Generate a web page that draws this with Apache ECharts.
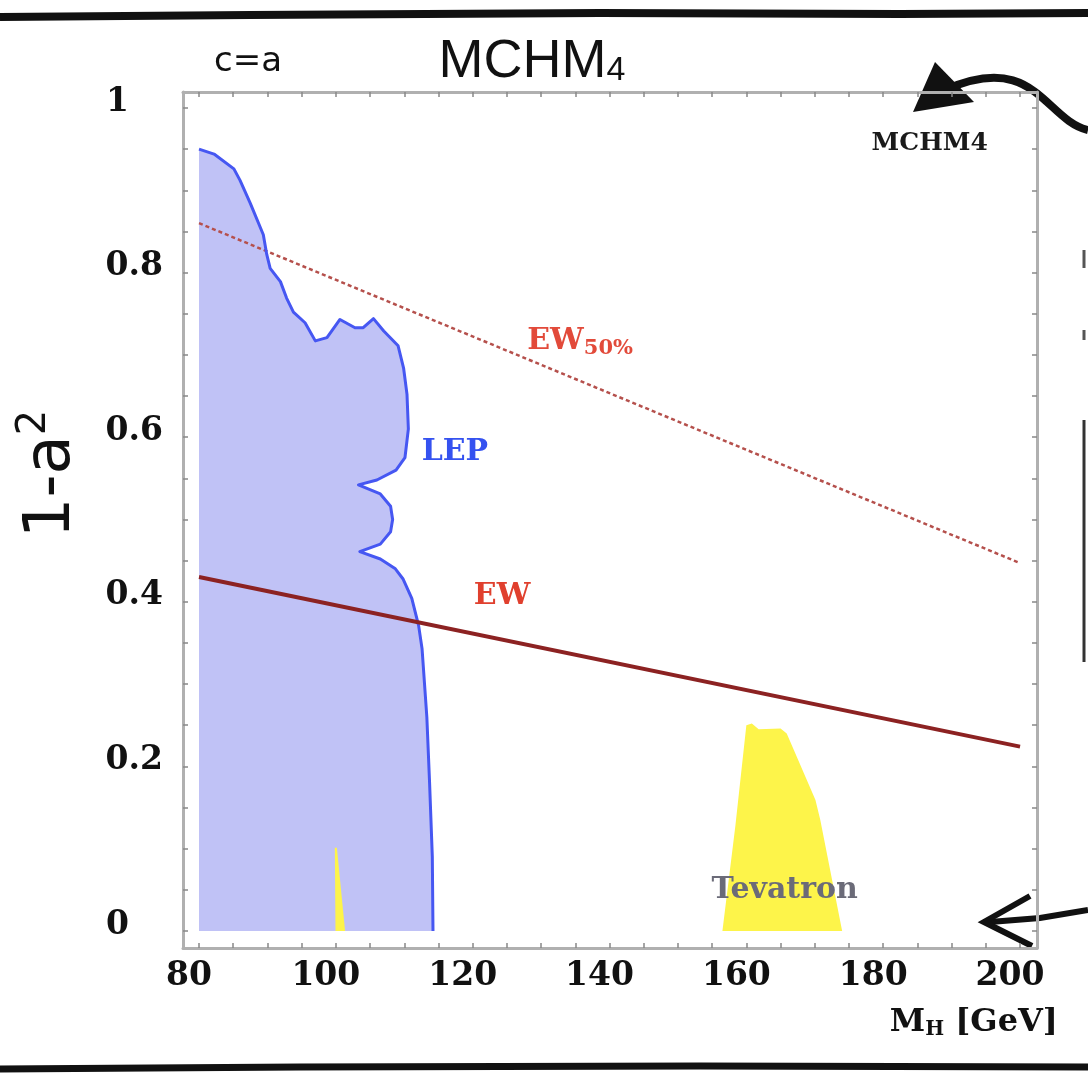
<!DOCTYPE html>
<html>
<head>
<meta charset="utf-8">
<script src="https://cdn.jsdelivr.net/npm/echarts@6/dist/echarts.min.js"></script>
<style>
  html, body { margin: 0; padding: 0; background: #fff; }
  #chart { width: 1088px; height: 1082px; }
</style>
</head>
<body>
<div id="chart"></div>
<script>
// tick values
var xTickLabels = [80, 100, 120, 140, 160, 180, 200];
var xMinorTicks = [80, 85, 90, 95, 100, 105, 110, 115, 120, 125, 130, 135, 140, 145, 150, 155, 160, 165, 170, 175, 180, 185, 190, 195, 200];
var yTickLabels = [0, 0.2, 0.4, 0.6, 0.8, 1];
var yMinorTicks = [0, 0.05, 0.1, 0.15, 0.2, 0.25, 0.3, 0.35, 0.4, 0.45, 0.5, 0.55, 0.6, 0.65, 0.7, 0.75, 0.8, 0.85, 0.9, 0.95, 1];

// LEP exclusion boundary (M_H, 1-a^2)
var lepBoundary = [
  [80.0, 0.950], [82.2, 0.944], [85.1, 0.926], [86.0, 0.912], [87.5, 0.884],
  [89.4, 0.846], [89.9, 0.822], [90.4, 0.805], [91.9, 0.789], [92.8, 0.769],
  [93.8, 0.752], [95.5, 0.739], [97.0, 0.717], [98.7, 0.721], [100.6, 0.743],
  [102.8, 0.733], [104.0, 0.733], [105.5, 0.744], [107.0, 0.729], [109.1, 0.711],
  [109.9, 0.684], [110.4, 0.652], [110.6, 0.610], [110.1, 0.575], [108.8, 0.560],
  [106.0, 0.548], [103.3, 0.542], [106.5, 0.531], [108.0, 0.516], [108.3, 0.500],
  [108.0, 0.485], [106.5, 0.470], [103.5, 0.461], [106.5, 0.452], [108.7, 0.440],
  [109.8, 0.428], [111.1, 0.404], [112.1, 0.371], [112.6, 0.343], [113.3, 0.260],
  [113.7, 0.180], [114.1, 0.090], [114.2, 0.0]
];
// Tevatron exclusion
var tevatronRegion = [
  [156.5, 0], [158.4, 0.128], [160.0, 0.250], [160.8, 0.252], [161.8, 0.245],
  [165.0, 0.246], [165.9, 0.240], [170.1, 0.159], [170.8, 0.135], [174.0, 0]
];
var tevatronSliver = [[99.85, 0.101], [100.15, 0.101], [101.35, 0], [99.95, 0]];

// electroweak bounds
var ewLine = [[80, 0.430], [200, 0.224]];
var ew50Line = [[80, 0.860], [200, 0.447]];

// in-plot labels
var lepLabel = [117.4, 0.582];
var ewLabel = [124.3, 0.407];
var ew50Label = [135.7, 0.716];
var tevLabel = [165.6, 0.050];
var modelLabel = [186.8, 0.957];

var chart = echarts.init(document.getElementById('chart'));

var serif = 'DejaVu Serif';

function area(points, color, z) {
  return {
    type: 'custom',
    silent: true,
    z: z,
    data: [0],
    renderItem: function (params, api) {
      return {
        type: 'polygon',
        shape: { points: points.map(function (p) { return api.coord(p); }) },
        style: { fill: color }
      };
    }
  };
}

function textMark(pos, text, color, size, rich) {
  return {
    type: 'scatter',
    silent: true,
    symbolSize: 0,
    z: 10,
    itemStyle: { opacity: 1 },
    data: [pos],
    label: {
      show: true,
      position: 'inside',
      formatter: text,
      color: color,
      fontFamily: serif,
      fontWeight: 'bold',
      fontSize: size,
      rich: rich || {}
    }
  };
}

function frameX(pos, labels) {
  return {
    type: 'value',
    position: pos,
    min: 77.66,
    max: 202.48,
    axisLine: { show: true, onZero: false, lineStyle: { color: '#b0b0b0', width: 3 } },
    axisTick: { show: true, inside: true, length: 5, customValues: xMinorTicks, lineStyle: { color: '#888', width: 1.5 } },
    axisLabel: labels ? {
      show: true,
      customValues: xTickLabels,
      margin: 12,
      color: '#111',
      fontFamily: serif,
      fontWeight: 'bold',
      fontSize: 33,
      padding: [0, 20, 0, 0]
    } : { show: false },
    splitLine: { show: false }
  };
}

function frameY(pos, labels) {
  return {
    type: 'value',
    position: pos,
    min: -0.0207,
    max: 1.0194,
    axisLine: { show: true, onZero: false, lineStyle: { color: '#b0b0b0', width: 3 } },
    axisTick: { show: true, inside: true, length: 5, customValues: yMinorTicks, lineStyle: { color: '#888', width: 1.5 } },
    axisLabel: labels ? {
      show: true,
      customValues: yTickLabels,
      margin: 20,
      color: '#111',
      fontFamily: serif,
      fontWeight: 'bold',
      fontSize: 33,
      padding: [0, 0, 12, 0],
      formatter: function (v) {
        if (Math.abs(v) < 1e-9 || Math.abs(v - 1) < 1e-9) return '{i|' + Math.round(v) + '}';
        return v.toFixed(1);
      },
      rich: { i: { fontFamily: serif, fontWeight: 'bold', fontSize: 33, color: '#111', padding: [0, 34, 0, 0] } }
    } : { show: false },
    splitLine: { show: false }
  };
}

var xAxes = [frameX('bottom', true), frameX('top', false)];
xAxes[0].name = '{m|M}{h|H}{g| [GeV]}';
xAxes[0].nameLocation = 'end';
xAxes[0].nameGap = 21;
xAxes[0].nameTextStyle = {
  align: 'right',
  verticalAlign: 'top',
  padding: [58, 0, 0, 0],
  rich: {
    m: { fontFamily: serif, fontWeight: 'bold', fontSize: 32, color: '#111' },
    h: { fontFamily: serif, fontWeight: 'bold', fontSize: 20, color: '#111', padding: [14, 0, 0, 0] },
    g: { fontFamily: serif, fontWeight: 'bold', fontSize: 32, color: '#111' }
  }
};

var option = {
  backgroundColor: '#fff',
  animation: false,
  grid: { left: 183, right: 51, top: 92, bottom: 134 },
  xAxis: xAxes,
  yAxis: [frameY('left', true), frameY('right', false)],
  series: [
    area(lepBoundary.concat([[80, 0]]), '#c0c2f6', 1),
    area(tevatronSliver, '#fdf44a', 2),
    area(tevatronRegion, '#fdf44a', 2),
    {
      type: 'line',
      data: ew50Line,
      symbol: 'none',
      z: 4,
      lineStyle: { color: '#b5504c', width: 2.5, type: [4, 3] }
    },
    {
      type: 'line',
      data: lepBoundary,
      symbol: 'none',
      z: 5,
      lineStyle: { color: '#4657f2', width: 3, join: 'round' }
    },
    {
      type: 'line',
      data: ewLine,
      symbol: 'none',
      z: 6,
      lineStyle: { color: '#8c2222', width: 4 }
    },
    textMark(lepLabel, 'LEP', '#3552f0', 30),
    textMark(ewLabel, 'EW', '#e0402e', 30),
    textMark(ew50Label, '{a|EW}{b|50%}', '#e24a3a', 30, {
      a: { fontFamily: serif, fontWeight: 'bold', fontSize: 30, color: '#e24a3a' },
      b: { fontFamily: serif, fontWeight: 'bold', fontSize: 21, color: '#e24a3a', padding: [14, 0, 0, 0] }
    }),
    textMark(tevLabel, 'Tevatron', '#6b6b78', 30),
    textMark(modelLabel, 'MCHM4', '#1a1a1a', 25)
  ],
  graphic: [
    // slide decoration: brush strokes
    { type: 'polyline', shape: { points: [[0, 17], [250, 15], [600, 13], [900, 14], [1088, 13]] }, style: { stroke: '#111', lineWidth: 8, fill: null } },
    { type: 'polyline', shape: { points: [[0, 1069], [300, 1067], [700, 1066], [1088, 1067]] }, style: { stroke: '#111', lineWidth: 7, fill: null } },
    // top-right arrow
    { type: 'bezierCurve', shape: { x1: 1088, y1: 130, cpx1: 1045, cpy1: 120, cpx2: 1035, cpy2: 50, x2: 945, y2: 90 }, style: { stroke: '#111', lineWidth: 8, fill: null } },
    { type: 'polygon', shape: { points: [[913, 112], [935, 62], [974, 102]] }, style: { fill: '#111' } },
    // bottom-right arrow
    { type: 'polyline', shape: { points: [[990, 922], [1040, 918], [1088, 910]] }, style: { stroke: '#111', lineWidth: 6, fill: null } },
    { type: 'polyline', shape: { points: [[1030, 896], [984, 922], [1032, 946]] }, style: { stroke: '#111', lineWidth: 6, fill: null } },
    // partial bracket on the right edge
    { type: 'line', shape: { x1: 1084, y1: 420, x2: 1084, y2: 662 }, style: { stroke: '#333', lineWidth: 3 } },
    { type: 'line', shape: { x1: 1084, y1: 250, x2: 1084, y2: 268 }, style: { stroke: '#555', lineWidth: 3 } },
    { type: 'line', shape: { x1: 1084, y1: 330, x2: 1084, y2: 340 }, style: { stroke: '#555', lineWidth: 3 } },
    // titles
    { type: 'text', x: 248, y: 62, style: { text: 'c=a', fontFamily: 'DejaVu Sans', fontSize: 34, fill: '#111', align: 'center', verticalAlign: 'middle' } },
    {
      type: 'text', x: 532, y: 62,
      style: {
        text: '{m|MCHM}{s|4}', align: 'center', verticalAlign: 'middle',
        rich: {
          m: { fontFamily: 'Liberation Sans', fontSize: 54, fill: '#111' },
          s: { fontFamily: 'Liberation Sans', fontSize: 34, fill: '#111', padding: [18, 0, 0, 0] }
        }
      }
    },
    {
      type: 'text', x: 52, y: 474, rotation: Math.PI / 2,
      style: {
        text: '{a|1-a}{s|2}', align: 'center', verticalAlign: 'middle',
        rich: {
          a: { fontFamily: 'DejaVu Sans', fontSize: 64, fill: '#111' },
          s: { fontFamily: 'DejaVu Sans', fontSize: 40, fill: '#111', padding: [0, 0, 34, 0] }
        }
      }
    }
  ]
};

chart.setOption(option);
</script>
</body>
</html>
